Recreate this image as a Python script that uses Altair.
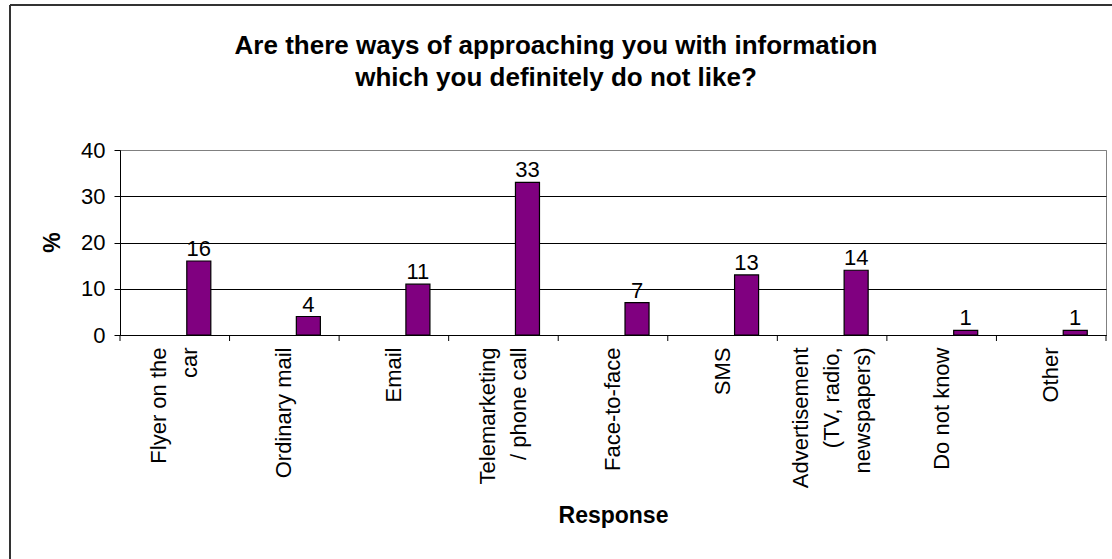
import altair as alt
import pandas as pd

# ---- data ----
categories = [
    "Flyer on the\ncar",
    "Ordinary mail",
    "Email",
    "Telemarketing\n/ phone call",
    "Face-to-face",
    "SMS",
    "Advertisement\n(TV, radio,\nnewspapers)",
    "Do not know",
    "Other",
]
values = [16, 4, 11, 33, 7, 13, 14, 1, 1]
series_names = ["s1", "s2", "s3"]  # Excel-style cluster slots; only the third carries data
y_ticks = [0, 10, 20, 30, 40]
title_lines = [
    "Are there ways of approaching you with information",
    "which you definitely do not like?",
]

FONT = "Liberation Sans"
PURPLE = "#800080"
LABEL_LH = 31

df = pd.DataFrame({"Response": categories, "pct": values, "series": "s3"})

n_lines = "length(split(datum.value, '\\n'))"
x_scale = alt.Scale(paddingInner=0, paddingOuter=0)
x_axis = alt.Axis(
    title="Response",
    titleFont=FONT,
    titleFontSize=23,
    titleFontWeight="bold",
    titleColor="black",
    titleY=180,
    titleBaseline="middle",
    labelExpr="split(datum.value, '\\n')",
    labelAngle=-90,
    labelAlign="right",
    labelBaseline="middle",
    labelFont=FONT,
    labelFontSize=22,
    labelColor="black",
    labelLineHeight=LABEL_LH,
    labelPadding=12,
    labelOverlap=False,
    labelLimit=300,
    labelOffset={
        "condition": [
            {"test": f"{n_lines} == 2", "value": -LABEL_LH / 2},
            {"test": f"{n_lines} == 3", "value": -LABEL_LH},
        ],
        "value": 0,
    },
    ticks=False,
    domainColor="black",
    grid=False,
)
x_enc = alt.X("Response:N", sort=categories, scale=x_scale, axis=x_axis)
x_edge = alt.X("Response:N", sort=categories, scale=x_scale, axis=x_axis, bandPosition=0)

xoff_enc = alt.XOffset(
    "series:N",
    scale=alt.Scale(domain=series_names, paddingInner=0, paddingOuter=0.78),
)
y_enc = alt.Y(
    "pct:Q",
    scale=alt.Scale(domain=[0, 40], nice=False),
    axis=alt.Axis(
        title="%",
        titleFont=FONT,
        titleFontSize=23,
        titleFontWeight="bold",
        titleColor="black",
        titleX=-68,
        titleY=92,
        titleAngle=-90,
        titleBaseline="middle",
        values=y_ticks,
        labelFont=FONT,
        labelFontSize=22,
        labelColor="black",
        labelPadding=9,
        tickSize=6,
        tickColor="black",
        domainColor="black",
        gridColor={
            "condition": {"test": "datum.value == 40", "value": "#808080"},
            "value": "black",
        },
        gridWidth=1,
    ),
)

base = alt.Chart(df)

bars = base.mark_bar(color=PURPLE, stroke="black", strokeWidth=1.2).encode(
    x=x_enc, xOffset=xoff_enc, y=y_enc
)
labels = base.mark_text(
    baseline="alphabetic", dy=-5, font=FONT, fontSize=22, color="black"
).encode(x=x_enc, xOffset=xoff_enc, y=y_enc, text=alt.Text("pct:Q"))

# category-boundary tick marks below the x axis
edge_ticks = base.mark_rule(color="black", strokeWidth=1).encode(
    x=x_edge, y=alt.value(185), y2=alt.value(191)
)

one = pd.DataFrame({"k": [0]})
end_tick = alt.Chart(one).mark_rule(color="black", strokeWidth=1).encode(
    x=alt.value(986), y=alt.value(185), y2=alt.value(191)
)
border_left = alt.Chart(one).mark_rule(color="#333333", strokeWidth=2).encode(
    x=alt.value(-110), y=alt.value(-145), y2=alt.value(420)
)
border_top = alt.Chart(one).mark_rule(color="#333333", strokeWidth=2).encode(
    x=alt.value(-110), x2=alt.value(1000), y=alt.value(-145)
)
title = alt.Chart(one).mark_text(
    font=FONT, fontSize=26, fontWeight="bold", color="black",
    align="center", baseline="middle", lineHeight=32,
).encode(x=alt.value(436), y=alt.value(-104), text=alt.value(title_lines))

chart = (
    alt.layer(border_left, border_top, title, edge_ticks, end_tick, bars, labels)
    .properties(
        width=986,
        height=185,
        autosize=alt.AutoSizeParams(type="none"),
        padding={"left": 120, "top": 150, "right": 6, "bottom": 224},
        background="white",
    )
    .configure_view(stroke="#808080", strokeWidth=1)
)

chart.save("out.html", embed_options={"renderer": "svg", "actions": False})
